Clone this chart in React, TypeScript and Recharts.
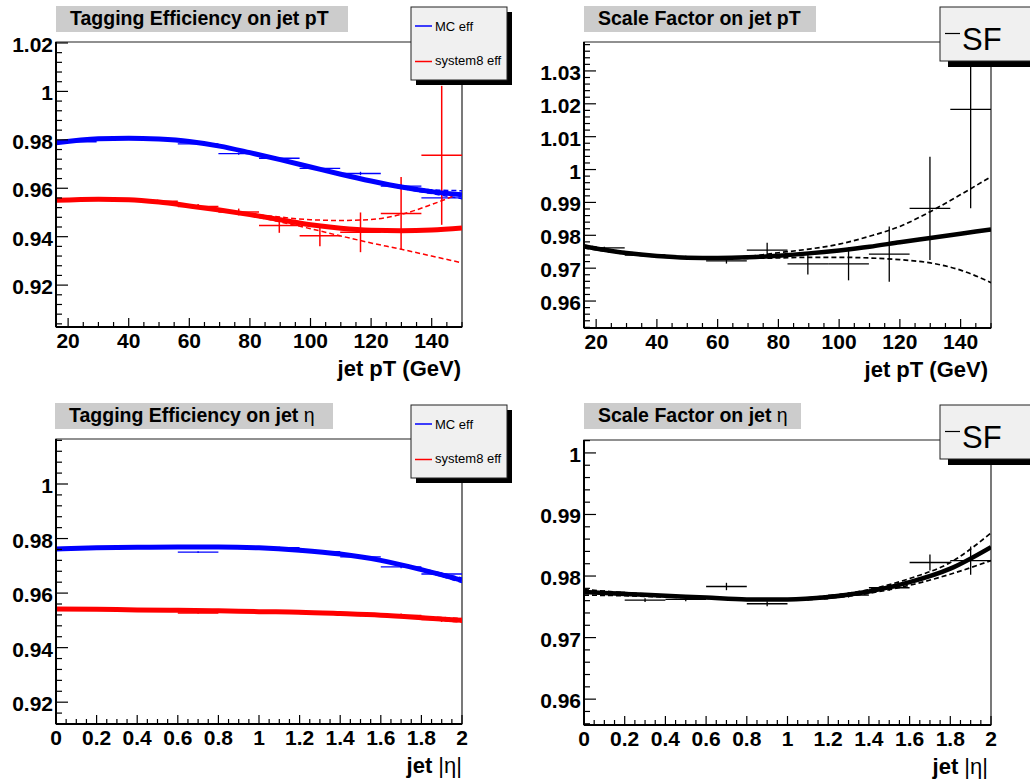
import React from "react";
import { ComposedChart, Line, Scatter, ErrorBar, XAxis, YAxis, ReferenceArea } from "recharts";

const FONT = '"Liberation Sans", Arial, Helvetica, sans-serif';

// jet pT binning: 10 bins from 16 to 150 GeV
const ptCenters = [22.7, 36.1, 49.5, 62.9, 76.3, 89.7, 103.1, 116.5, 129.9, 143.3];
const ptHalfBin = 6.7;

const ptMcEff = [0.9792, 0.9805, 0.9803, 0.9783, 0.9743, 0.9724, 0.9682, 0.9661, 0.9609, 0.956];
const ptMcErr = [0.0003, 0.0003, 0.0003, 0.0004, 0.0005, 0.0005, 0.0006, 0.0007, 0.0008, 0.001];
const ptS8Eff = [0.9551, 0.9553, 0.9546, 0.9525, 0.9502, 0.9446, 0.9404, 0.9418, 0.9496, 0.9736];
const ptS8Err = [0.0005, 0.0006, 0.0007, 0.001, 0.0014, 0.003, 0.0044, 0.0082, 0.015, 0.0287];
const ptSF = [0.9762, 0.974, 0.9733, 0.9722, 0.9755, 0.9713, 0.9713, 0.9743, 0.9882, 1.0183];
const ptSFErr = [0.0003, 0.0004, 0.0005, 0.0008, 0.0022, 0.0032, 0.005, 0.0084, 0.0157, 0.0301];

// fitted curves on pT
const ptFitX = [16, 30, 40, 50, 60, 70, 80, 90, 100, 110, 120, 130, 140, 150];
const ptMcFit = [0.9788, 0.9804, 0.9807, 0.9803, 0.9793, 0.9774, 0.9747, 0.9718, 0.9688, 0.9658, 0.963, 0.9605, 0.9586, 0.9573];
const ptS8Fit = [0.955, 0.9555, 0.9553, 0.9543, 0.9527, 0.951, 0.9491, 0.947, 0.9449, 0.9435, 0.9427, 0.9425, 0.9428, 0.9436];
const ptS8BandX = [70, 80, 90, 100, 110, 120, 130, 140, 150];
const ptS8Up = [0.9512, 0.9495, 0.9481, 0.947, 0.9467, 0.9471, 0.9492, 0.9533, 0.9582];
const ptS8Lo = [0.9508, 0.9487, 0.9461, 0.9433, 0.9403, 0.9374, 0.9348, 0.932, 0.9292];
const ptMcBandX = [110, 120, 130, 140, 150];
const ptMcUp = [0.9659, 0.9632, 0.961, 0.9594, 0.959];
const ptMcLo = [0.9657, 0.9628, 0.96, 0.9578, 0.9557];

const ptSFFitX = [16, 20, 30, 40, 50, 60, 70, 80, 90, 100, 110, 120, 130, 140, 150];
const ptSFFit = [0.9766, 0.976, 0.9746, 0.9737, 0.9732, 0.9731, 0.9733, 0.9738, 0.9745, 0.9754, 0.9765, 0.9779, 0.9792, 0.9805, 0.9818];
const ptSFBandX = [16, 30, 40, 50, 60, 70, 80, 90, 100, 110, 120, 130, 140, 150];
const ptSFUp = [0.977, 0.9749, 0.9739, 0.9734, 0.9733, 0.9736, 0.9747, 0.9758, 0.9773, 0.9797, 0.9827, 0.9872, 0.9924, 0.9978];
const ptSFLo = [0.9762, 0.9743, 0.9735, 0.9731, 0.9729, 0.973, 0.9731, 0.9733, 0.9733, 0.9731, 0.9726, 0.9716, 0.9694, 0.9656];

// jet |eta| binning: 10 bins from 0 to 2
const etaCenters = [0.1, 0.3, 0.5, 0.7, 0.9, 1.1, 1.3, 1.5, 1.7, 1.9];
const etaHalfBin = 0.1;

const etaMcEff = [0.9762, 0.9768, 0.9769, 0.975, 0.9768, 0.9767, 0.9752, 0.9733, 0.9696, 0.967];
const etaMcErr = [0.0002, 0.0002, 0.0002, 0.0003, 0.0003, 0.0003, 0.0003, 0.0004, 0.0005, 0.0006];
const etaS8Eff = [0.9542, 0.954, 0.9537, 0.9527, 0.9533, 0.9534, 0.9525, 0.952, 0.9518, 0.9503];
const etaS8Err = [0.0003, 0.0003, 0.0003, 0.0003, 0.0003, 0.0004, 0.0004, 0.0005, 0.0007, 0.0009];
const etaSF = [0.9774, 0.9761, 0.9762, 0.9783, 0.9755, 0.9763, 0.9769, 0.9781, 0.9822, 0.9825];
const etaSFErr = [0.0003, 0.0003, 0.0003, 0.0006, 0.0004, 0.0003, 0.0004, 0.0005, 0.0013, 0.0023];

const etaFitX = [0, 0.2, 0.4, 0.6, 0.8, 1, 1.2, 1.4, 1.6, 1.8, 2];
const etaMcFit = [0.9762, 0.9766, 0.9768, 0.9769, 0.9769, 0.9766, 0.9757, 0.9743, 0.972, 0.9686, 0.9647];
const etaS8Fit = [0.9542, 0.9541, 0.9538, 0.9537, 0.9535, 0.9532, 0.953, 0.9525, 0.9519, 0.951, 0.95];
const etaBandX = [1.6, 1.8, 2];
const etaMcUp = [0.9722, 0.969, 0.9655];
const etaMcLo = [0.9718, 0.9682, 0.9639];
const etaS8Up = [0.952, 0.9514, 0.9507];
const etaS8Lo = [0.9518, 0.9506, 0.9493];
const etaSFFit = [0.9774, 0.9771, 0.9768, 0.9765, 0.9762, 0.9762, 0.9766, 0.9775, 0.979, 0.9812, 0.9847];
const etaSFUp = [0.9778, 0.9773, 0.9769, 0.9766, 0.9763, 0.9763, 0.9768, 0.9778, 0.9796, 0.9822, 0.987];
const etaSFLo = [0.9769, 0.9768, 0.9766, 0.9764, 0.9761, 0.9761, 0.9764, 0.9772, 0.9785, 0.9803, 0.9825];

// axis major ticks
const ptMajors = [20, 40, 60, 80, 100, 120, 140];
const etaMajors = [0, 0.2, 0.4, 0.6, 0.8, 1, 1.2, 1.4, 1.6, 1.8, 2];
const effPtMajors = [0.92, 0.94, 0.96, 0.98, 1, 1.02];
const sfPtMajors = [0.96, 0.97, 0.98, 0.99, 1, 1.01, 1.02, 1.03];
const effEtaMajors = [0.92, 0.94, 0.96, 0.98, 1];
const sfEtaMajors = [0.96, 0.97, 0.98, 0.99, 1];

const BLUE = "#0000ff";
const RED = "#ff0000";
const BLACK = "#000000";

type XY = { x: number; y: number };
type Pt = { x: number; y: number; ex: number; ey: number };

const curve = (xs: number[], ys: number[]): XY[] => xs.map((x, i) => ({ x, y: ys[i] }));
const points = (xs: number[], ys: number[], ex: number, eys: number[]): Pt[] =>
  xs.map((x, i) => ({ x, y: ys[i], ex, ey: eys[i] }));

const tickRange = (lo: number, hi: number, step: number) => {
  const out: number[] = [];
  for (let k = Math.ceil(lo / step - 1e-6); k * step <= hi + 1e-9; k++) out.push(Number((k * step).toFixed(6)));
  return out;
};

const isMajor = (v: number, majors: number[]) => majors.some((m) => Math.abs(m - v) < 1e-7);
const fmt = (v: number) => String(Number(v.toFixed(4)));

const YTick = (props: any) => {
  const { x, y, payload, majors } = props;
  const major = isMajor(payload.value, majors);
  return (
    <g>
      <line x1={x} y1={y} x2={x + (major ? 12 : 6)} y2={y} stroke="#000" strokeWidth={1.2} />
      {major && (
        <text x={x - 3} y={y + 9} textAnchor="end" fontFamily={FONT} fontWeight="bold" fontSize={21} fill="#000">
          {fmt(payload.value)}
        </text>
      )}
    </g>
  );
};

const XTick = (props: any) => {
  const { x, y, payload, majors } = props;
  const major = isMajor(payload.value, majors);
  return (
    <g>
      <line x1={x} y1={y} x2={x} y2={y - (major ? 9 : 5)} stroke="#000" strokeWidth={1.2} />
      {major && (
        <text x={x} y={y + 21} textAnchor="middle" fontFamily={FONT} fontWeight="bold" fontSize={21} fill="#000">
          {fmt(payload.value)}
        </text>
      )}
    </g>
  );
};

const NoMarker = () => <g />;

type CurveSpec = { data: XY[]; color: string; width: number; dashed?: boolean };
type PointSpec = { data: Pt[]; color: string; width: number };

type PanelProps = {
  left: number;
  top: number;
  yAxisWidth: number;
  marginTop: number;
  marginRight: number;
  xAxisHeight: number;
  xDomain: [number, number];
  yDomain: [number, number];
  xMajors: number[];
  xMinorStep: number;
  yMajors: number[];
  yMinorStep: number;
  curves: CurveSpec[];
  pointSets: PointSpec[];
};

const Panel = (p: PanelProps) => (
  <div style={{ position: "absolute", left: p.left, top: p.top }}>
    <ComposedChart
      width={515}
      height={390}
      margin={{ top: p.marginTop, right: p.marginRight, bottom: 0, left: 0 }}
    >
      <XAxis
        dataKey="x"
        type="number"
        domain={p.xDomain}
        allowDataOverflow
        ticks={tickRange(p.xDomain[0], p.xDomain[1], p.xMinorStep)}
        interval={0}
        tick={<XTick majors={p.xMajors} />}
        tickLine={false}
        tickSize={0}
        tickMargin={0}
        height={p.xAxisHeight}
        axisLine={{ stroke: "#000", strokeWidth: 2 }}
      />
      <YAxis
        type="number"
        domain={p.yDomain}
        allowDataOverflow
        ticks={tickRange(p.yDomain[0], p.yDomain[1], p.yMinorStep)}
        interval={0}
        tick={<YTick majors={p.yMajors} />}
        tickLine={false}
        tickSize={0}
        tickMargin={0}
        width={p.yAxisWidth}
        axisLine={{ stroke: "#000", strokeWidth: 2 }}
      />
      <ReferenceArea
        x1={p.xDomain[0]}
        x2={p.xDomain[1]}
        y1={p.yDomain[0]}
        y2={p.yDomain[1]}
        fill="none"
        stroke="#222"
        strokeWidth={1.2}
        ifOverflow="visible"
      />
      {p.pointSets.map((s, i) => (
        <Scatter key={"s" + i} data={s.data} dataKey="y" shape={NoMarker} isAnimationActive={false}>
          <ErrorBar dataKey="ex" direction="x" width={0} stroke={s.color} strokeWidth={s.width} isAnimationActive={false} />
          <ErrorBar dataKey="ey" direction="y" width={0} stroke={s.color} strokeWidth={s.width} isAnimationActive={false} />
        </Scatter>
      ))}
      {p.curves.map((c, i) => (
        <Line
          key={"c" + i}
          data={c.data}
          dataKey="y"
          type="monotone"
          stroke={c.color}
          strokeWidth={c.width}
          strokeDasharray={c.dashed ? "5 3" : undefined}
          dot={false}
          activeDot={false}
          isAnimationActive={false}
        />
      ))}
    </ComposedChart>
  </div>
);

const EffLegend = ({ top }: { top: number }) => (
  <g>
    <rect x={416} y={top + 5} width={96} height={73} fill="#000" />
    <rect x={411} y={top} width={96} height={73} fill="#f0f0f0" stroke="#222" strokeWidth={1} />
    <line x1={415} x2={432} y1={top + 19} y2={top + 19} stroke={BLUE} strokeWidth={1.5} />
    <text x={435} y={top + 24} fontFamily={FONT} fontSize={13} fill="#000">MC eff</text>
    <line x1={415} x2={432} y1={top + 54.5} y2={top + 54.5} stroke={RED} strokeWidth={1.5} />
    <text x={435} y={top + 57.5} fontFamily={FONT} fontSize={13} fill="#000">system8 eff</text>
  </g>
);

const SFLegend = ({ top }: { top: number }) => (
  <g>
    <rect x={948} y={top + 6} width={100} height={54} fill="#000" />
    <rect x={940} y={top} width={100} height={54} fill="#f0f0f0" stroke="#222" strokeWidth={1} />
    <line x1={945} x2={960} y1={top + 26.5} y2={top + 26.5} stroke="#000" strokeWidth={1.2} />
    <text x={962} y={top + 43} fontFamily={FONT} fontSize={31} fill="#000">SF</text>
  </g>
);

const TitleBox = ({ x, y, w, children }: { x: number; y: number; w: number; children: React.ReactNode }) => (
  <g>
    <rect x={x} y={y} width={w} height={26} fill="#cccccc" />
    <text x={x + 14} y={y + 18.5} fontFamily={FONT} fontWeight="bold" fontSize={19.5} fill="#000">
      {children}
    </text>
  </g>
);

const App = () => (
  <div style={{ position: "absolute", left: 0, top: 0, width: 1030, height: 783, background: "#fff", overflow: "hidden" }}>
    <Panel
      left={0}
      top={0}
      yAxisWidth={56}
      marginTop={42}
      marginRight={53}
      xAxisHeight={63}
      xDomain={[16, 150]}
      yDomain={[0.9027, 1.0204]}
      xMajors={ptMajors}
      xMinorStep={5}
      yMajors={effPtMajors}
      yMinorStep={0.004}
      pointSets={[
        { data: points(ptCenters, ptMcEff, ptHalfBin, ptMcErr), color: BLUE, width: 1.3 },
        { data: points(ptCenters, ptS8Eff, ptHalfBin, ptS8Err), color: RED, width: 1.5 },
      ]}
      curves={[
        { data: curve(ptMcBandX, ptMcUp), color: BLUE, width: 1.5, dashed: true },
        { data: curve(ptMcBandX, ptMcLo), color: BLUE, width: 1.5, dashed: true },
        { data: curve(ptS8BandX, ptS8Up), color: RED, width: 1.5, dashed: true },
        { data: curve(ptS8BandX, ptS8Lo), color: RED, width: 1.5, dashed: true },
        { data: curve(ptFitX, ptMcFit), color: BLUE, width: 5 },
        { data: curve(ptFitX, ptS8Fit), color: RED, width: 5 },
      ]}
    />
    <Panel
      left={515}
      top={0}
      yAxisWidth={69}
      marginTop={42}
      marginRight={39}
      xAxisHeight={62}
      xDomain={[16, 150]}
      yDomain={[0.9518, 1.0388]}
      xMajors={ptMajors}
      xMinorStep={5}
      yMajors={sfPtMajors}
      yMinorStep={0.002}
      pointSets={[{ data: points(ptCenters, ptSF, ptHalfBin, ptSFErr), color: BLACK, width: 1.3 }]}
      curves={[
        { data: curve(ptSFBandX, ptSFUp), color: BLACK, width: 1.7, dashed: true },
        { data: curve(ptSFBandX, ptSFLo), color: BLACK, width: 1.7, dashed: true },
        { data: curve(ptSFFitX, ptSFFit), color: BLACK, width: 4.5 },
      ]}
    />
    <Panel
      left={0}
      top={390}
      yAxisWidth={56}
      marginTop={49}
      marginRight={53}
      xAxisHeight={56}
      xDomain={[0, 2]}
      yDomain={[0.912, 1.0165]}
      xMajors={etaMajors}
      xMinorStep={0.05}
      yMajors={effEtaMajors}
      yMinorStep={0.004}
      pointSets={[
        { data: points(etaCenters, etaMcEff, etaHalfBin, etaMcErr), color: BLUE, width: 1.3 },
        { data: points(etaCenters, etaS8Eff, etaHalfBin, etaS8Err), color: RED, width: 1.3 },
      ]}
      curves={[
        { data: curve(etaBandX, etaMcUp), color: BLUE, width: 1.5, dashed: true },
        { data: curve(etaBandX, etaMcLo), color: BLUE, width: 1.5, dashed: true },
        { data: curve(etaBandX, etaS8Up), color: RED, width: 1.5, dashed: true },
        { data: curve(etaBandX, etaS8Lo), color: RED, width: 1.5, dashed: true },
        { data: curve(etaFitX, etaMcFit), color: BLUE, width: 5 },
        { data: curve(etaFitX, etaS8Fit), color: RED, width: 5 },
      ]}
    />
    <Panel
      left={515}
      top={390}
      yAxisWidth={69}
      marginTop={50}
      marginRight={39}
      xAxisHeight={55}
      xDomain={[0, 2]}
      yDomain={[0.9558, 1.0021]}
      xMajors={etaMajors}
      xMinorStep={0.05}
      yMajors={sfEtaMajors}
      yMinorStep={0.002}
      pointSets={[{ data: points(etaCenters, etaSF, etaHalfBin, etaSFErr), color: BLACK, width: 1.3 }]}
      curves={[
        { data: curve(etaFitX, etaSFUp), color: BLACK, width: 1.7, dashed: true },
        { data: curve(etaFitX, etaSFLo), color: BLACK, width: 1.7, dashed: true },
        { data: curve(etaFitX, etaSFFit), color: BLACK, width: 4.5 },
      ]}
    />
    <svg width={1030} height={783} style={{ position: "absolute", left: 0, top: 0, pointerEvents: "none" }}>
      <TitleBox x={56} y={6} w={292}>Tagging Efficiency on jet pT</TitleBox>
      <TitleBox x={584} y={6} w={232}>Scale Factor on jet pT</TitleBox>
      <TitleBox x={55} y={403} w={278}>
        Tagging Efficiency on jet <tspan fontWeight="normal">η</tspan>
      </TitleBox>
      <TitleBox x={584} y={403} w={217}>
        Scale Factor on jet <tspan fontWeight="normal">η</tspan>
      </TitleBox>
      <EffLegend top={7} />
      <EffLegend top={405} />
      <SFLegend top={7} />
      <SFLegend top={405} />
      <text x={461} y={376} textAnchor="end" fontFamily={FONT} fontWeight="bold" fontSize={22} fill="#000">jet pT (GeV)</text>
      <text x={988} y={377} textAnchor="end" fontFamily={FONT} fontWeight="bold" fontSize={22} fill="#000">jet pT (GeV)</text>
      <text x={462} y={773} textAnchor="end" fontFamily={FONT} fontWeight="bold" fontSize={22} fill="#000">
        jet <tspan fontWeight="normal">|η|</tspan>
      </text>
      <text x={988} y={774} textAnchor="end" fontFamily={FONT} fontWeight="bold" fontSize={22} fill="#000">
        jet <tspan fontWeight="normal">|η|</tspan>
      </text>
    </svg>
  </div>
);

export default App;
